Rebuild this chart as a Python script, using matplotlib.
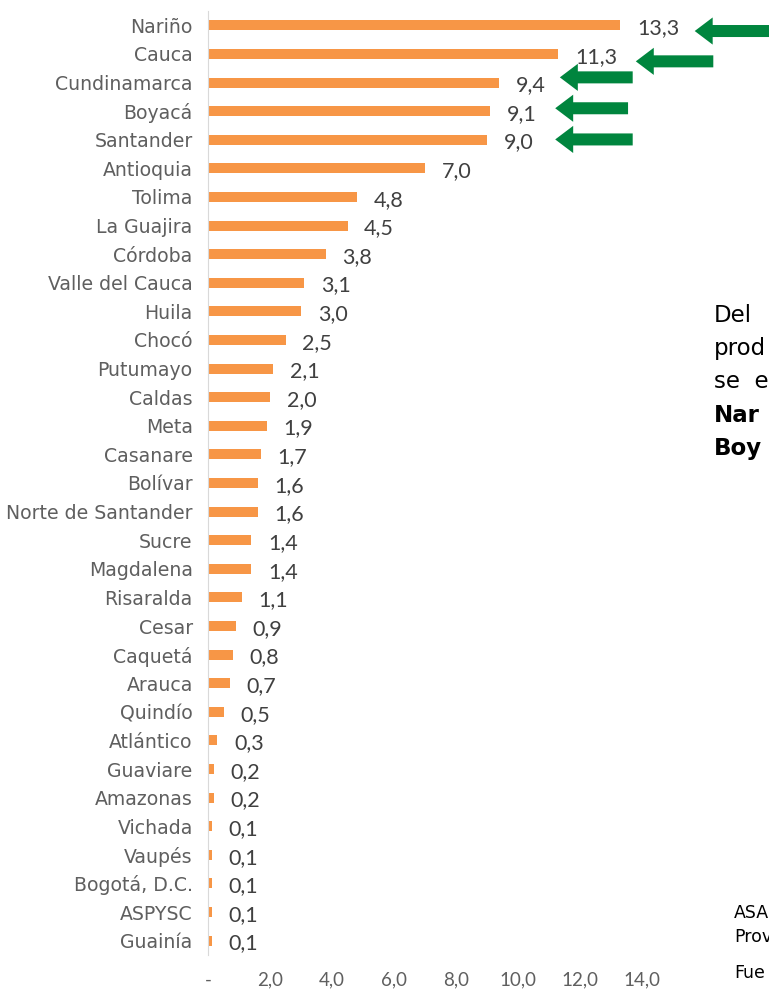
import matplotlib.pyplot as plt
from matplotlib.patches import FancyArrow

# Datos por departamento (%)
departamentos = ['Nariño', 'Cauca', 'Cundinamarca', 'Boyacá', 'Santander',
                 'Antioquia', 'Tolima', 'La Guajira', 'Córdoba', 'Valle del Cauca',
                 'Huila', 'Chocó', 'Putumayo', 'Caldas', 'Meta', 'Casanare',
                 'Bolívar', 'Norte de Santander', 'Sucre', 'Magdalena', 'Risaralda',
                 'Cesar', 'Caquetá', 'Arauca', 'Quindío', 'Atlántico', 'Guaviare',
                 'Amazonas', 'Vichada', 'Vaupés', 'Bogotá, D.C.', 'ASPYSC', 'Guainía']
valores = [13.3, 11.3, 9.4, 9.1, 9.0, 7.0, 4.8, 4.5, 3.8, 3.1, 3.0, 2.5, 2.1,
           2.0, 1.9, 1.7, 1.6, 1.6, 1.4, 1.4, 1.1, 0.9, 0.8, 0.7, 0.5, 0.3,
           0.2, 0.2, 0.1, 0.1, 0.1, 0.1, 0.1]
xticks = [0, 2, 4, 6, 8, 10, 12, 14]
xtick_labels = ['-', '2,0', '4,0', '6,0', '8,0', '10,0', '12,0', '14,0']

# Longitudes de barra dibujadas (valores pequeños se ven un poco más largos)
barras = [max(v, 0.12) for v in valores]

naranja = '#F79646'
verde = '#00853E'
gris = '#5F5F5F'

fig = plt.figure(figsize=(7.69, 9.93), dpi=100)
ax = fig.add_axes([208 / 769, 1 - 955 / 993, (642 - 208) / 769, (955 - 11) / 993])

y = list(range(len(departamentos)))
ax.barh(y, barras, height=0.35, color=naranja)
ax.set_ylim(len(departamentos) - 0.5, -0.5)
ax.set_xlim(0, 14)

ax.set_yticks(y)
ax.set_yticklabels(departamentos, fontsize=13.6, color=gris, family='DejaVu Sans')
ax.set_xticks(xticks)
ax.set_xticklabels(xtick_labels, fontsize=13.5, color=gris, family='Lato')
ax.tick_params(axis='y', length=0, pad=11)
ax.tick_params(axis='x', length=0, pad=12)

for s in ['top', 'right', 'bottom']:
    ax.spines[s].set_visible(False)
ax.spines['left'].set_color('#D9D9D9')

for i, v in enumerate(valores):
    ax.annotate(f'{v:.1f}'.replace('.', ','), xy=(barras[i], i), xytext=(12, -2),
                textcoords='offset points', ha='left', va='center',
                fontsize=15.5, color='#404040', family='Lato')

# Flechas verdes (punta x, cola x, y)
flechas = [(15.7, 19.0, 0.2), (13.8, 16.3, 1.26), (11.35, 13.7, 1.82),
           (11.2, 13.55, 2.9), (11.2, 13.7, 3.99)]
for tip, tail, yy in flechas:
    ax.add_patch(FancyArrow(tail, yy, tip - tail, 0, width=0.42, head_width=0.95,
                            head_length=0.58, length_includes_head=True,
                            color=verde, clip_on=False, lw=0))

# Texto lateral (solo la parte visible en la referencia)
fig.text(714 / 769, 1 - 322 / 993, 'Del', fontsize=16.5, va='baseline')
fig.text(714 / 769, 1 - 355 / 993, 'prod', fontsize=16.5, va='baseline')
fig.text(714 / 769, 1 - 388 / 993, 'se  e', fontsize=16.5, va='baseline')
fig.text(714 / 769, 1 - 422 / 993, 'Nar', fontsize=16.5, va='baseline', weight='bold')
fig.text(714 / 769, 1 - 455 / 993, 'Boy', fontsize=16.5, va='baseline', weight='bold')

fig.text(734 / 769, 1 - 918 / 993, 'ASA', fontsize=12.5, va='baseline')
fig.text(734 / 769, 1 - 942 / 993, 'Prov', fontsize=12.5, va='baseline')
fig.text(734 / 769, 1 - 978 / 993, 'Fue', fontsize=12.5, va='baseline')

fig.savefig('out.png', dpi=100)
